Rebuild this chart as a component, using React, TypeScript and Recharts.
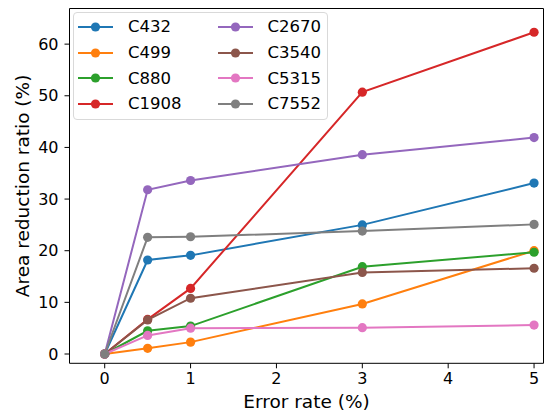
import React from 'react';
import { LineChart, Line, XAxis, YAxis, ReferenceLine } from 'recharts';

const errorRates = [0, 0.5, 1, 3, 5];
const xTicks = [0, 1, 2, 3, 4, 5];
const yTicks = [0, 10, 20, 30, 40, 50, 60];
const xDomain = [-0.41, 5.11];
const yDomain = [-1.8, 66.9];

const c432 = [0, 18.2, 19.1, 25.0, 33.1];
const c499 = [0, 1.1, 2.3, 9.7, 20.0];
const c880 = [0, 4.5, 5.4, 16.9, 19.7];
const c1908 = [0, 6.7, 12.7, 50.7, 62.3];
const c2670 = [0, 31.8, 33.6, 38.6, 41.9];
const c3540 = [0, 6.6, 10.8, 15.8, 16.6];
const c5315 = [0, 3.6, 5.0, 5.1, 5.6];
const c7552 = [0, 22.6, 22.7, 23.8, 25.1];

const seriesNames = ['C432', 'C499', 'C880', 'C1908', 'C2670', 'C3540', 'C5315', 'C7552'];
const seriesValues = [c432, c499, c880, c1908, c2670, c3540, c5315, c7552];
const colors = ['#1f77b4', '#ff7f0e', '#2ca02c', '#d62728', '#9467bd', '#8c564b', '#e377c2', '#7f7f7f'];

const data = errorRates.map((x, i) => {
  const row: Record<string, number> = { x };
  seriesNames.forEach((n, k) => {
    row[n] = seriesValues[k][i];
  });
  return row;
});

const FONT = 'DejaVu Sans, sans-serif';
const LABEL_SIZE = 18.5;
const TICK_SIZE = 16;

const YLabel = (props: any) => {
  const vb = props.viewBox || {};
  const cx = 23;
  const cy = vb.y + vb.height / 2;
  return (
    <text
      x={cx}
      y={cy}
      transform={`rotate(-90 ${cx} ${cy})`}
      textAnchor="middle"
      dominantBaseline="central"
      fontFamily={FONT}
      fontSize={LABEL_SIZE}
      fill="#000"
    >
      Area reduction ratio (%)
    </text>
  );
};

const XLabel = (props: any) => {
  const vb = props.viewBox || {};
  const cx = vb.x + vb.width / 2;
  return (
    <text
      x={cx}
      y={vb.y + 44.5}
      textAnchor="middle"
      fontFamily={FONT}
      fontSize={LABEL_SIZE}
      fill="#000"
    >
      Error rate (%)
    </text>
  );
};

const LegendBox = () => {
  const order = [0, 4, 1, 5, 2, 6, 3, 7];
  return (
    <div
      style={{
        position: 'absolute',
        left: 72.5,
        top: 11.5,
        border: '1px solid #d9d9d9',
        borderRadius: 4,
        background: 'rgba(255,255,255,0.8)',
        padding: '1.5px 6px 2.5px 4.5px',
        display: 'grid',
        gridTemplateColumns: 'auto auto',
        columnGap: 36,
        rowGap: 0,
        fontFamily: FONT,
        fontSize: 16.5,
        color: '#000',
      }}
    >
      {order.map((k) => (
        <div key={seriesNames[k]} style={{ display: 'flex', alignItems: 'center', height: 25.7 }}>
          <svg width={35} height={12} style={{ marginRight: 15, flexShrink: 0 }}>
            <line x1={0} y1={6} x2={35} y2={6} stroke={colors[k]} strokeWidth={2} />
            <circle cx={17.5} cy={6} r={4.6} fill={colors[k]} />
          </svg>
          <span>{seriesNames[k]}</span>
        </div>
      ))}
    </div>
  );
};

export default function App() {
  return (
    <div style={{ position: 'absolute', left: 0, top: 0, width: 548, height: 413, background: '#fff' }}>
      <LineChart
        width={548}
        height={413}
        data={data}
        margin={{ top: 8.5, right: 4.5, left: 0, bottom: 0 }}
      >
        <XAxis
          dataKey="x"
          type="number"
          domain={xDomain}
          ticks={xTicks}
          allowDataOverflow
          height={49.7}
          tickSize={5}
          tickMargin={4}
          stroke="#000"
          tick={{ fill: '#000', fontFamily: FONT, fontSize: TICK_SIZE }}
          label={<XLabel />}
        />
        <YAxis
          type="number"
          domain={yDomain}
          ticks={yTicks}
          allowDataOverflow
          width={69.5}
          tickSize={5}
          tickMargin={6}
          stroke="#000"
          tick={{ fill: '#000', fontFamily: FONT, fontSize: TICK_SIZE }}
          label={<YLabel />}
        />
        <ReferenceLine y={yDomain[1]} stroke="#000" strokeWidth={1} ifOverflow="visible" />
        <ReferenceLine x={xDomain[1]} stroke="#000" strokeWidth={1} ifOverflow="visible" />
        {seriesNames.map((n, k) => (
          <Line
            key={n}
            dataKey={n}
            stroke={colors[k]}
            strokeWidth={2}
            dot={{ r: 4.6, fill: colors[k], stroke: colors[k], strokeWidth: 0 }}
            activeDot={false}
            isAnimationActive={false}
          />
        ))}
      </LineChart>
      <LegendBox />
    </div>
  );
}
